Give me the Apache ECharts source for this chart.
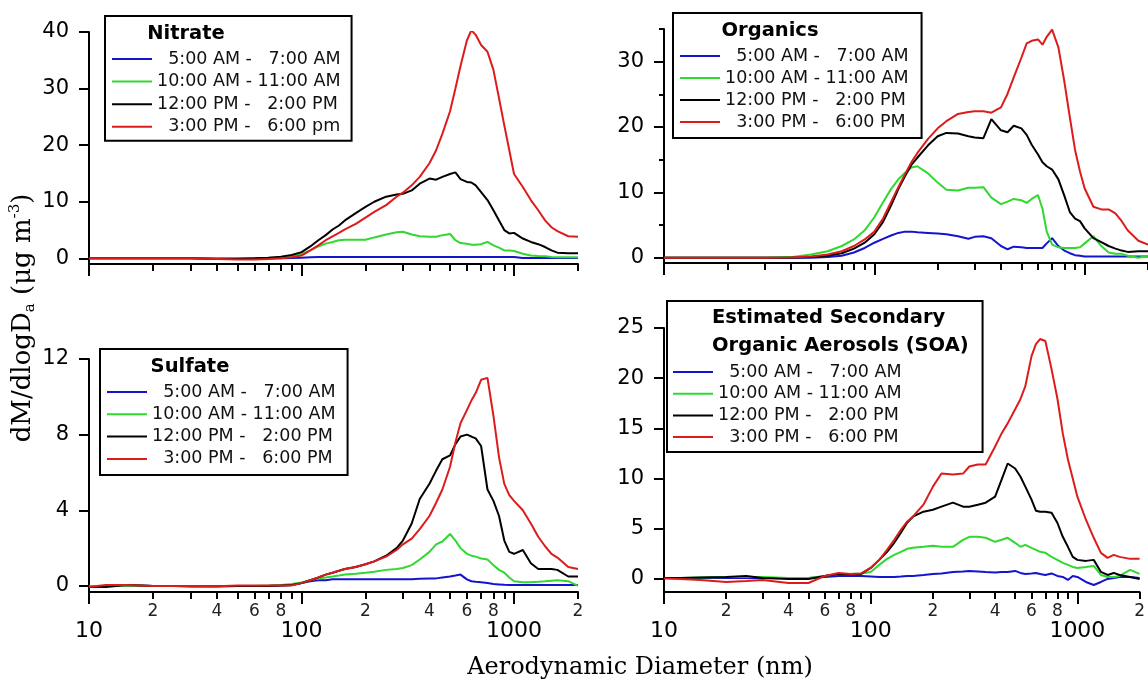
<!DOCTYPE html>
<html><head><meta charset="utf-8">
<script src="https://cdn.jsdelivr.net/npm/echarts@6/dist/echarts.min.js"></script>
<style>html,body{margin:0;padding:0;background:#fff;overflow:hidden}#c{width:1148px;height:683px}</style>
</head><body><div id="c"></div>
<script>
// ---------------- data ----------------
const diam = [10,12,15,20,25,30,40,50,60,70,
  80,90,100,110,120,130,140,150,160,180,
  200,220,250,280,300,330,360,400,430,460,
  500,530,560,600,630,660,700,750,800,850,
  900,950,1000,1100,1200,1300,1400,1500,1600,1800,
  2000];

const seriesNames = ['  5:00 AM -   7:00 AM','10:00 AM - 11:00 AM','12:00 PM -   2:00 PM','  3:00 PM -   6:00 PM'];
const nitrateNames = ['  5:00 AM -   7:00 AM','10:00 AM - 11:00 AM','12:00 PM -   2:00 PM','  3:00 PM -   6:00 pm'];

const nitrate5am = [0,0,0,0,0,0,0,0,0,0,
  0,0.05,0.1,0.2,0.25,0.25,0.25,0.25,0.25,0.25,
  0.25,0.25,0.25,0.25,0.25,0.25,0.25,0.25,0.25,0.25,
  0.25,0.25,0.25,0.25,0.25,0.25,0.25,0.25,0.25,0.25,
  0.25,0.25,0.25,0.05,0.05,0.05,0.05,0.05,0.05,0.05,
  0.05];
const nitrate10am = [0,0,0,0,0,0,0,0,0.05,0.1,
  0.15,0.3,0.8,1.4,2.1,2.6,2.9,3.2,3.3,3.3,
  3.3,3.7,4.2,4.6,4.7,4.2,3.9,3.8,3.8,4.1,
  4.3,3.2,2.7,2.6,2.4,2.4,2.5,2.9,2.3,1.9,
  1.4,1.4,1.3,0.8,0.5,0.4,0.35,0.25,0.2,0.2,
  0.2];
const nitrate12pm = [0,0,0,0,0,0,-0.1,-0.1,0,0.1,
  0.3,0.6,1.1,2.1,3.2,4.1,5.1,5.8,6.7,8.0,
  9.1,10.0,10.9,11.3,11.4,12.0,13.2,14.1,13.9,14.4,
  14.9,15.2,14.0,13.5,13.4,12.9,11.7,10.3,8.5,6.7,
  5.0,4.4,4.5,3.5,2.9,2.5,2.0,1.4,1.0,0.9,
  0.9];
const nitrate3pm = [0,0,0,0,0,0,-0.1,-0.2,-0.2,-0.1,
  0,0.2,0.5,1.4,2.3,3.2,3.9,4.5,5.1,6.1,
  7.2,8.2,9.4,10.9,11.6,12.9,14.4,16.8,19.1,22.0,
  26.0,30.0,34.0,38.5,40.3,39.5,37.7,36.5,33.3,28.3,
  23.5,19.1,14.9,12.6,10.3,8.5,6.7,5.5,4.8,3.9,
  3.8];

const organics5am = [0,0,0,0,0,0,0,0,0.1,0.3,
  0.8,1.5,2.3,2.9,3.4,3.8,4.0,4.0,3.9,3.8,
  3.7,3.6,3.3,2.9,3.2,3.3,3.0,1.8,1.3,1.7,
  1.6,1.5,1.5,1.5,1.5,2.2,3.0,1.8,1.1,0.7,
  0.4,0.3,0.2,0.2,0.2,0.2,0.2,0.2,0.2,0.2,
  0.2];
const organics10am = [0,0,0,0,0,0,0.1,0.5,1.0,1.8,
  2.8,4.2,6.2,8.5,10.5,12.0,13.0,13.8,14.0,12.9,
  11.5,10.4,10.3,10.7,10.7,10.8,9.2,8.2,8.6,9.0,
  8.8,8.4,9.0,9.6,7.5,4.0,2.0,1.6,1.5,1.5,
  1.5,1.6,2.2,3.3,1.8,0.8,0.6,0.6,0.3,0.0,
  0.3];
const organics12pm = [0,0,0,0,0,0,0,0.1,0.3,0.7,
  1.4,2.3,3.6,5.5,8.0,10.5,12.5,14.2,15.3,17.2,
  18.6,19.1,19.0,18.6,18.4,18.3,21.2,19.5,19.2,20.2,
  19.8,18.8,17.3,15.8,14.6,14.0,13.5,12.0,9.5,7.0,
  6.0,5.6,4.5,3.0,2.4,1.8,1.4,1.1,0.9,1.0,
  1.0];
const organics3pm = [0,0,0,0,0,0,0.05,0.2,0.5,1.0,
  1.8,2.8,4.0,6.0,8.5,10.8,12.8,14.6,16.0,18.2,
  19.8,20.9,22.0,22.3,22.4,22.4,22.2,23.0,25.1,27.6,
  30.6,32.8,33.2,33.4,32.6,33.8,34.9,32.2,27.0,21.5,
  16.5,13.2,10.6,7.8,7.4,7.4,6.8,5.6,4.2,2.6,
  2.0];

const sulfate5am = [0,0,0.05,0,0,0,0,0,0,0,
  0.02,0.05,0.15,0.25,0.3,0.3,0.35,0.35,0.35,0.35,
  0.35,0.35,0.35,0.35,0.35,0.35,0.38,0.4,0.4,0.45,
  0.5,0.55,0.6,0.35,0.25,0.22,0.2,0.15,0.1,0.08,
  0.06,0.05,0.05,0.05,0.05,0.05,0.05,0.05,0.05,0.05,
  0.05];
const sulfate10am = [0,0,0.02,0,0,0,0,0,0,0.02,
  0.05,0.1,0.18,0.3,0.4,0.45,0.5,0.55,0.6,0.65,
  0.7,0.75,0.85,0.9,0.95,1.1,1.4,1.8,2.2,2.35,
  2.75,2.4,2.0,1.7,1.6,1.55,1.45,1.4,1.1,0.85,
  0.7,0.45,0.25,0.2,0.2,0.22,0.25,0.28,0.3,0.25,
  0.0];
const sulfate12pm = [-0.05,-0.05,0.05,0,0,-0.03,-0.03,0,0,0,
  0.02,0.05,0.15,0.3,0.45,0.6,0.7,0.8,0.9,1.0,
  1.15,1.3,1.6,2.0,2.4,3.3,4.6,5.4,6.1,6.7,
  6.9,7.5,7.9,8.0,7.9,7.8,7.4,5.1,4.5,3.7,
  2.4,1.8,1.7,1.9,1.2,0.9,0.9,0.9,0.85,0.5,
  0.5];
const sulfate3pm = [-0.05,0.05,0.05,0,0,0,-0.02,0.02,0.02,0.02,
  0.02,0.03,0.15,0.3,0.45,0.6,0.7,0.8,0.9,1.0,
  1.15,1.3,1.55,1.9,2.2,2.5,3.0,3.7,4.4,5.1,
  6.3,7.6,8.6,9.3,9.8,10.2,10.9,11.0,9.0,6.8,
  5.4,4.8,4.5,4.0,3.3,2.6,2.1,1.7,1.5,1.0,
  0.9];

const soa5am = [0.1,0.1,0.1,0.1,0.1,0.1,0.1,0.1,0.2,0.3,
  0.3,0.3,0.25,0.2,0.2,0.2,0.25,0.3,0.3,0.4,
  0.5,0.55,0.7,0.75,0.8,0.75,0.7,0.65,0.7,0.7,
  0.8,0.6,0.5,0.55,0.6,0.5,0.4,0.55,0.3,0.2,
  -0.1,0.3,0.2,-0.3,-0.6,-0.3,0.0,0.1,0.2,0.2,
  0.1];
const soa10am = [0.1,0.1,0.15,0.2,0.2,0.2,0.1,0.1,0.3,0.5,
  0.5,0.55,0.7,1.4,2.0,2.4,2.7,3.0,3.1,3.2,
  3.3,3.2,3.2,3.9,4.2,4.2,4.1,3.7,3.9,4.1,
  3.6,3.2,3.4,3.1,2.9,2.7,2.6,2.2,1.9,1.6,
  1.4,1.2,1.1,1.2,1.3,0.4,0.2,0.2,0.3,0.9,
  0.5];
const soa12pm = [0.1,0.1,0.15,0.2,0.3,0.1,0.0,0.0,0.3,0.5,
  0.5,0.5,1.1,1.9,2.7,3.6,4.6,5.6,6.2,6.7,
  6.9,7.2,7.6,7.2,7.2,7.4,7.6,8.2,9.9,11.5,
  11.0,10.2,9.2,7.9,6.8,6.7,6.7,6.6,5.6,4.2,
  3.2,2.2,1.9,1.8,1.9,0.7,0.4,0.6,0.4,0.2,
  0.0];
const soa3pm = [0.05,0.0,-0.1,-0.3,-0.2,-0.1,-0.4,-0.4,0.3,0.6,
  0.5,0.55,1.1,1.9,2.9,3.9,4.9,5.7,6.2,7.4,
  9.2,10.5,10.4,10.5,11.2,11.4,11.4,13.2,14.5,15.5,
  16.9,17.9,19.2,22.2,23.4,23.9,23.7,20.9,18.0,14.5,
  11.9,10.0,8.2,5.9,4.1,2.6,2.1,2.4,2.2,2.0,
  2.0];

const xMajorTicks = [10,100,1000];
const xMinorTicks = [20,30,40,50,60,70,80,90,200,300,400,500,600,700,800,900,2000];
const xMinorLabels = [20,40,60,80,200,400,600,800,2000];
const nitrateYTicks = [0,10,20,30,40];
const organicsYTicks = [0,10,20,30];
const organicsYMinorTicks = [5,15,25,35];
const sulfateYTicks = [0,4,8,12];
const soaYTicks = [0,5,10,15,20,25];

const panelTitles = ['Nitrate','Organics','Sulfate','Estimated Secondary','Organic Aerosols (SOA)'];
const xTitle = 'Aerodynamic Diameter (nm)';

// ---------------- layout / style ----------------
const colors = ['#1414d0','#30d830','#000000','#dc1c1c'];
const sans = 'DejaVu Sans';
const panels = [
  {grid:{left:89, top:32, width:489, height:232}, ymin:-1, ymax:40, yticks:nitrateYTicks, xlabels:false,
   data:[nitrate5am,nitrate10am,nitrate12pm,nitrate3pm], names:nitrateNames,
   legend:{left:105, top:16, padding:[34,11,5,7], itemGap:4.6}},
  {grid:{left:664, top:29, width:489, height:234}, ymin:-0.8, ymax:35, yticks:organicsYTicks, xlabels:false,
   data:[organics5am,organics10am,organics12pm,organics3pm], names:seriesNames,
   legend:{left:673, top:13, padding:[34,13,7,7], itemGap:4}},
  {grid:{left:89, top:359, width:489, height:233}, ymin:-0.32, ymax:12, yticks:sulfateYTicks, xlabels:true,
   data:[sulfate5am,sulfate10am,sulfate12pm,sulfate3pm], names:seriesNames,
   legend:{left:100, top:349, padding:[34,12,7,7], itemGap:4.3}},
  {grid:{left:664, top:328, width:489, height:264}, ymin:-1.3, ymax:25, yticks:soaYTicks, xlabels:true,
   data:[soa5am,soa10am,soa12pm,soa3pm], names:seriesNames,
   legend:{left:667, top:301, padding:[62,81,6,6], itemGap:3.7}}
];

const firstDigit = v => String(Math.round(v / Math.pow(10, Math.floor(Math.log10(v) + 1e-9))));

const xAxis = [], yAxis = [], grid = [], series = [], legend = [];
panels.forEach((p, g) => {
  grid.push(Object.assign({containLabel:false}, p.grid));
  xAxis.push({
    type:'log', logBase:10, gridIndex:g, min:10, max:2000, position:'bottom',
    axisLine:{show:true, onZero:false, lineStyle:{color:'#000', width:2}},
    axisTick:{show:true, customValues:xMajorTicks, length:12, lineStyle:{color:'#000', width:2}},
    axisLabel:{show:p.xlabels, customValues:xMajorTicks, formatter:v=>String(v), margin:28,
      fontFamily:sans, fontSize:22, color:'#000'},
    splitLine:{show:false}
  });
  xAxis.push({
    type:'log', logBase:10, gridIndex:g, min:10, max:2000, position:'bottom',
    axisLine:{show:false, onZero:false},
    axisTick:{show:true, customValues:xMinorTicks, length:7, lineStyle:{color:'#000', width:2}},
    axisLabel:{show:p.xlabels, customValues:xMinorLabels, formatter:firstDigit, margin:11,
      fontFamily:sans, fontSize:17, color:'#222'},
    splitLine:{show:false}
  });
  yAxis.push({
    type:'value', gridIndex:g, min:p.ymin, max:p.ymax, position:'left',
    axisLine:{show:true, onZero:false, lineStyle:{color:'#000', width:2}},
    axisTick:{show:true, customValues:p.yticks, length:10, lineStyle:{color:'#000', width:2}},
    axisLabel:{customValues:p.yticks, margin:20, fontFamily:sans, fontSize:21, color:'#000'},
    splitLine:{show:false}
  });
  p.data.forEach((vals, k) => {
    series.push({
      type:'line', name:p.names[k], xAxisIndex:2*g, yAxisIndex:g,
      data:diam.map((d, i) => [d, vals[i]]),
      symbol:'none', showSymbol:false, animation:false,
      lineStyle:{color:colors[k], width:2}, itemStyle:{color:colors[k]}
    });
  });
  legend.push(Object.assign({
    orient:'vertical', data:p.names, selectedMode:false,
    borderColor:'#000', borderWidth:2, borderRadius:0,
    icon:'rect', itemWidth:40, itemHeight:2,
    textStyle:{fontFamily:sans, fontSize:17.5, lineHeight:18, color:'#111'}
  }, p.legend));
});
// minor ticks for the Organics y axis
yAxis.push({
  type:'value', gridIndex:1, min:panels[1].ymin, max:panels[1].ymax, position:'left',
  axisLine:{show:false, onZero:false},
  axisTick:{show:true, customValues:organicsYMinorTicks, length:5, lineStyle:{color:'#000', width:2}},
  axisLabel:{show:false}, splitLine:{show:false}
});

const titleFont = 'bold 19.5px "DejaVu Sans"';
const graphic = [
  {type:'text', x:186, y:34, z:100, style:{text:panelTitles[0], font:titleFont, fill:'#000', align:'center', verticalAlign:'middle'}},
  {type:'text', x:770, y:31, z:100, style:{text:panelTitles[1], font:titleFont, fill:'#000', align:'center', verticalAlign:'middle'}},
  {type:'text', x:190, y:367, z:100, style:{text:panelTitles[2], font:titleFont, fill:'#000', align:'center', verticalAlign:'middle'}},
  {type:'text', x:712, y:318, z:100, style:{text:panelTitles[3], font:titleFont, fill:'#000', align:'left', verticalAlign:'middle'}},
  {type:'text', x:712, y:346, z:100, style:{text:panelTitles[4], font:titleFont, fill:'#000', align:'left', verticalAlign:'middle'}},
  {type:'text', x:640, y:668, z:100, style:{text:xTitle, font:'24px "DejaVu Serif"', fill:'#000', align:'center', verticalAlign:'middle'}},
  {type:'text', x:23, y:318, rotation:Math.PI/2, z:100, style:{
    text:'{m|dM/dlogD}{s|a}{m| (μg m}{p|-3}{m|)}', align:'center', verticalAlign:'middle',
    rich:{
      m:{fontFamily:'DejaVu Serif', fontSize:26, lineHeight:30, fill:'#000'},
      s:{fontFamily:'DejaVu Serif', fontSize:15, lineHeight:15, fill:'#000', verticalAlign:'bottom'},
      p:{fontFamily:'DejaVu Serif', fontSize:15, lineHeight:15, fill:'#000', verticalAlign:'top'}
    }}}
];

const chart = echarts.init(document.getElementById('c'), null, {renderer:'canvas'});
chart.setOption({
  animation:false, backgroundColor:'#fff',
  grid, xAxis, yAxis, series, legend, graphic
});
</script></body></html>
